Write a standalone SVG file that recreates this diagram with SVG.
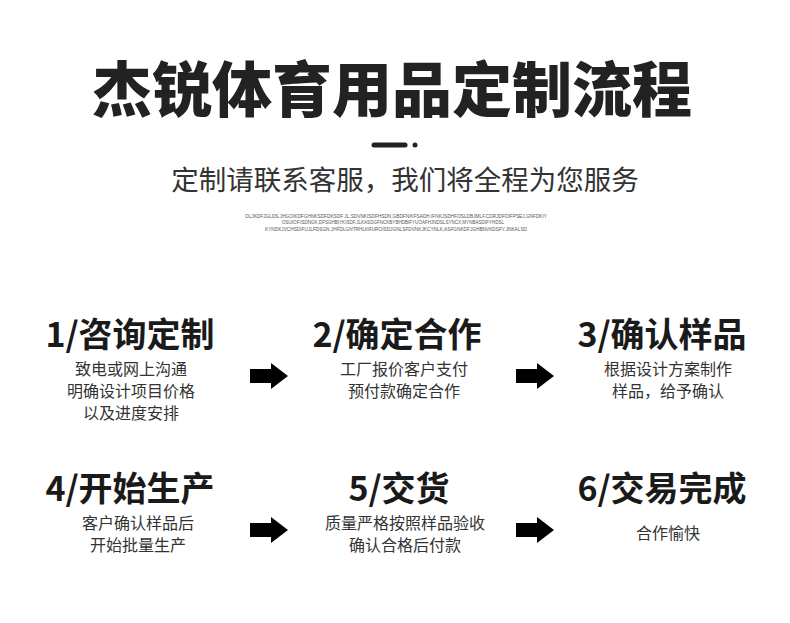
<svg xmlns="http://www.w3.org/2000/svg" width="790" height="623" viewBox="0 0 790 623">
<defs>
<style>
.t{font-family:"Noto Sans CJK SC","Noto Sans",sans-serif;fill:#222;text-anchor:middle}
.title{font-size:60px;font-weight:900}
.sub{font-size:27.5px;font-weight:400;fill:#333}
.tiny{font-family:"Liberation Sans",sans-serif;font-size:5px;fill:#555;text-anchor:middle}
.h{font-size:34px;font-weight:700;fill:#1a1a1a}
.b{font-size:16px;font-weight:400;fill:#333}
.arr{fill:#000}
</style>
<path id="arrow" d="M0,-7 H21 V-13 L38,0 L21,13 V7 H0 Z"/>
</defs>
<rect width="790" height="623" fill="#fff"/>
<g id="header">
<text class="t title" x="392" y="112">杰锐体育用品定制流程</text>
<line x1="374" y1="145" x2="405" y2="145" stroke="#222" stroke-width="5" stroke-linecap="round"/>
<circle cx="415" cy="145" r="2.5" fill="#222"/>
<text class="t sub" x="405" y="190">定制请联系客服，我们将全程为您服务</text>
<text class="tiny" x="396" y="218" textLength="302" lengthAdjust="spacingAndGlyphs">OLJKDFJGLDS.JHGOIKDFGHNKSDFDKSDF JL,SDVNKISDFHSDN,GBDFNIKFSADH.IFNKJSDHFOSLDBJMLF.CDRJDFOIFPSEJ,GNFDKIY</text>
<text class="tiny" x="393" y="224" textLength="222" lengthAdjust="spacingAndGlyphs">OSUIOF.ISDNGK,DFSGHBIYKISDF.JLKASDGFNCKBYBHDBIFYUOAFHJNDSLSYNCX,MYNBASDIFYHDSL</text>
<text class="tiny" x="396" y="231" textLength="262" lengthAdjust="spacingAndGlyphs">KYNDKJVCHSDIFUJLFDSGN.JHFDLGNTRHLKRUROISDJGNLSFDVNKJKCYNLK,ASFGNKDFJGHBNVKDSFY.JNKALSD</text>
</g>
<g id="step1">
<text class="t h" x="130" y="347">1/咨询定制</text>
<text class="t b" x="131" y="375">致电或网上沟通</text>
<text class="t b" x="131" y="397">明确设计项目价格</text>
<text class="t b" x="131" y="419">以及进度安排</text>
</g>
<g id="step2">
<text class="t h" x="397" y="347">2/确定合作</text>
<text class="t b" x="404" y="375">工厂报价客户支付</text>
<text class="t b" x="404" y="397">预付款确定合作</text>
</g>
<g id="step3">
<text class="t h" x="662" y="347">3/确认样品</text>
<text class="t b" x="668" y="375">根据设计方案制作</text>
<text class="t b" x="668" y="397">样品，给予确认</text>
</g>
<g id="step4">
<text class="t h" x="130" y="501">4/开始生产</text>
<text class="t b" x="138" y="529">客户确认样品后</text>
<text class="t b" x="138" y="551">开始批量生产</text>
</g>
<g id="step5">
<text class="t h" x="399" y="501">5/交货</text>
<text class="t b" x="405" y="529">质量严格按照样品验收</text>
<text class="t b" x="405" y="551">确认合格后付款</text>
</g>
<g id="step6">
<text class="t h" x="662" y="501">6/交易完成</text>
<text class="t b" x="668" y="539">合作愉快</text>
</g>
<g id="connectors" class="arr">
<use href="#arrow" x="250" y="376"/>
<use href="#arrow" x="516" y="376"/>
<use href="#arrow" x="250" y="530"/>
<use href="#arrow" x="516" y="530"/>
</g>
</svg>
